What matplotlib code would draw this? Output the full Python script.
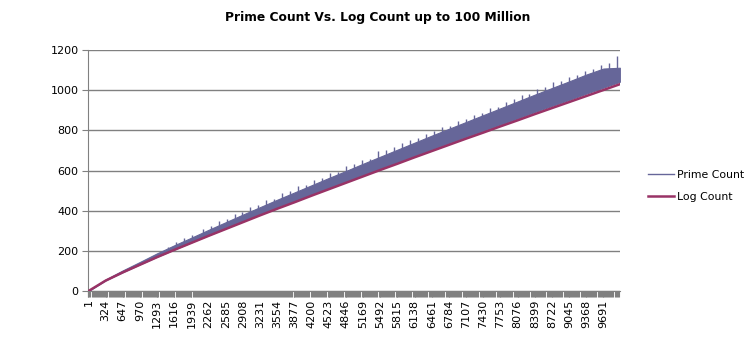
import numpy as np
import matplotlib
matplotlib.use("Agg")
import matplotlib.pyplot as plt
from matplotlib.lines import Line2D

# ============================================================ #
# Data (category index -> value)
# ============================================================ #
idx = [1, 324, 647, 970, 1293, 1616, 1939, 2262, 2585, 2908, 3231, 3554,
       3877, 4200, 4523, 4846, 5169, 5492, 5815, 6138, 6461, 6784, 7107,
       7430, 7753, 8076, 8399, 8722, 9045, 9368, 9691, 10000]

log_count = [0, 52, 93, 131, 169, 205, 240, 275, 309, 343, 377, 410, 442,
             475, 507, 539, 571, 603, 634, 666, 697, 728, 759, 789, 820,
             850, 881, 911, 941, 971, 1001, 1030]

# dense band of the prime count series (lower / upper edge)
prime_low = [0, 53, 94, 133, 171, 207, 243, 278, 313, 347, 382, 415, 447,
             481, 513, 545, 578, 610, 642, 674, 705, 737, 768, 798, 830,
             860, 892, 922, 952, 983, 1013, 1042]
prime_high = [2, 58, 103, 145, 188, 228, 266, 305, 343, 381, 418, 455, 491,
              527, 563, 598, 634, 669, 704, 739, 774, 808, 842, 876, 910,
              944, 978, 1011, 1044, 1078, 1108, 1112]

# single spikes sticking out of the band top
spike_idx = [1500, 1800, 2150, 2450, 2750, 3050, 3350, 3650, 3950, 4250,
             4550, 4850, 5150, 5450, 5750, 6050, 6350, 6650, 6950, 7250,
             7550, 7850, 8150, 8450, 8750, 9050, 9350, 9650, 9950,
             1650, 1950, 2300, 2600, 2900, 3200, 3500, 3800, 4100, 4400,
             4700, 5000, 5300, 5600, 5900, 6200, 6500, 6800, 7100, 7400,
             7700, 8000, 8300, 8600, 8900, 9200, 9500, 9800]
spike_low = [200, 240, 280, 315, 350, 380, 410, 445, 475, 510,
             540, 570, 600, 630, 665, 695, 725, 755, 780, 815,
             845, 875, 900, 930, 960, 990, 1015, 1045, 1060,
             215, 250, 290, 325, 360, 395, 430, 465, 495, 530,
             560, 595, 630, 665, 700, 725, 760, 790, 820, 855,
             885, 915, 950, 980, 1010, 1040, 1070, 1090]
spike_high = [222, 266, 310, 350, 384, 418, 452, 490, 522, 553,
              588, 622, 655, 695, 718, 752, 782, 818, 848, 878,
              910, 942, 975, 1008, 1042, 1068, 1098, 1125, 1172,
              245, 280, 322, 360, 392, 430, 460, 500, 528, 565,
              594, 632, 660, 700, 735, 760, 795, 822, 858, 888,
              918, 955, 980, 1015, 1048, 1075, 1105, 1138]

x_labels = [str(i) for i in idx[:-1]]

PRIME_COLOR = "#666699"
LOG_COLOR = "#993366"
GREY = "#808080"

# ============================================================ #
# Plotting
# ============================================================ #
fig = plt.figure(figsize=(7.55, 3.55), dpi=100)
ax = fig.add_axes([0.117, 0.180, 0.704, 0.679])

ax.fill_between(idx, prime_low, prime_high, color=PRIME_COLOR, linewidth=0.8,
                edgecolor=PRIME_COLOR, zorder=2)
ax.vlines(spike_idx, spike_low, spike_high, color=PRIME_COLOR, linewidth=1,
          zorder=2)
ax.plot(idx, log_count, color=LOG_COLOR, linewidth=1.8, zorder=3)

ax.set_xlim(0, 10000)
ax.set_ylim(0, 1200)
ax.set_yticks(range(0, 1201, 200))
ax.yaxis.grid(True, color=GREY, linewidth=1)
ax.set_axisbelow(True)

ax.set_xticks(idx[:-1])
ax.set_xticklabels(x_labels, rotation=90)
ax.set_xticks(np.arange(0, 10000, 20), minor=True)
ax.tick_params(axis="x", which="major", length=4, width=0.8, color=GREY,
               labelsize=8, pad=2)
ax.tick_params(axis="x", which="minor", length=4, width=0.8, color=GREY)
ax.tick_params(axis="y", length=4, color=GREY, labelsize=8, pad=3)

for side in ["top", "right"]:
    ax.spines[side].set_visible(False)
for side in ["left", "bottom"]:
    ax.spines[side].set_color(GREY)

fig.text(0.5, 1 - 17 / 355, "Prime Count Vs. Log Count up to 100 Million",
         ha="center", va="center", fontsize=8.8, fontweight="bold")

handles = [Line2D([], [], color=PRIME_COLOR, linewidth=1),
           Line2D([], [], color=LOG_COLOR, linewidth=1.8)]
fig.legend(handles, ["Prime Count", "Log Count"], loc="center left",
           bbox_to_anchor=(0.845, 0.476), frameon=False, fontsize=7.8,
           handlelength=2.4, handletextpad=0.3, labelspacing=1.1)

fig.savefig("out.png", dpi=100)
